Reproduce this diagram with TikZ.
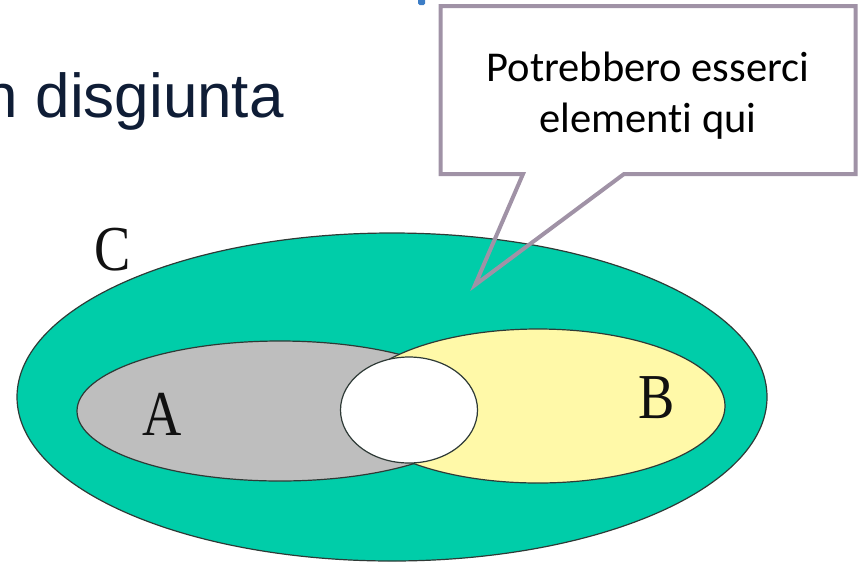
\documentclass[tikz,border=0pt]{standalone}
\usepackage{fontspec}
\setmainfont{Liberation Serif}
\newfontfamily\titlefont{Liberation Sans}
\newfontfamily\notefont[Ligatures=NoCommon]{Carlito}
\usetikzlibrary{shapes.geometric,shapes.callouts}
\definecolor{INKc}{HTML}{111111}
\definecolor{TITLEc}{HTML}{0F1D36}
\definecolor{TITLEBLUE}{HTML}{3C7DC6}
\definecolor{SETBD}{HTML}{2E3A36}
\definecolor{CSETC}{HTML}{00CDA9}
\definecolor{CSETA}{HTML}{BEBEBE}
\definecolor{CSETB}{HTML}{FFF9A8}
\definecolor{NOTEBD}{HTML}{A092A6}

\begin{document}
\begin{tikzpicture}[x=1pt, y=-1pt,
  % set as an ellipse with thin dark rim
  setbox/.style={ellipse, draw=SETBD, line width=1.2pt, inner sep=0pt},
  % letter naming a set (narrow, like the scanned figure)
  setlbl/.style={font=\fontsize{64}{66}\selectfont, text=INKc, inner sep=0pt, xscale=0.85},
  % speech bubble
  note/.style={rectangle callout, draw=NOTEBD, line width=4pt, align=center,
               font=\notefont\fontsize{42.5}{51}\selectfont, text=black,
               minimum width=415pt, minimum height=168pt, inner sep=0pt,
               callout pointer width=101pt},
]
\useasboundingbox (0,0) rectangle (861,563);

% ---------- Title fragment ----------
\node[font=\titlefont\fontsize{62}{64}\selectfont, text=TITLEc, anchor=base east,
      inner sep=0pt] (TITLE) at (284,117) {n disgiunta};
\fill[TITLEBLUE, rounded corners=1.5pt] (418,-3) rectangle (425,5);

% ---------- Sets ----------
\node[setbox, fill=CSETC, minimum width=750pt, minimum height=328pt] (C) at (392,397) {};
\node[setbox, fill=CSETA, minimum width=406pt, minimum height=140pt] (A) at (280,411) {};
\node[setbox, fill=CSETB, minimum width=374pt, minimum height=154pt] (B) at (538,406) {};
\node[setbox, fill=white, minimum width=137pt, minimum height=106pt] (AB) at (409,410) {};

\node[setlbl] (LC) at (113,250) {C};
\node[setlbl] (LA) at (162,414) {A};
\node[setlbl] (LB) at (657,398) {B};

% ---------- Callout (strut pushes the two lines a bit lower) ----------
\node[note, callout absolute pointer={(475,285)}] (NOTE) at (648,90)
  {\rule{0pt}{40pt}Potrebbero esserci\\elementi qui};

\end{tikzpicture}
\end{document}
